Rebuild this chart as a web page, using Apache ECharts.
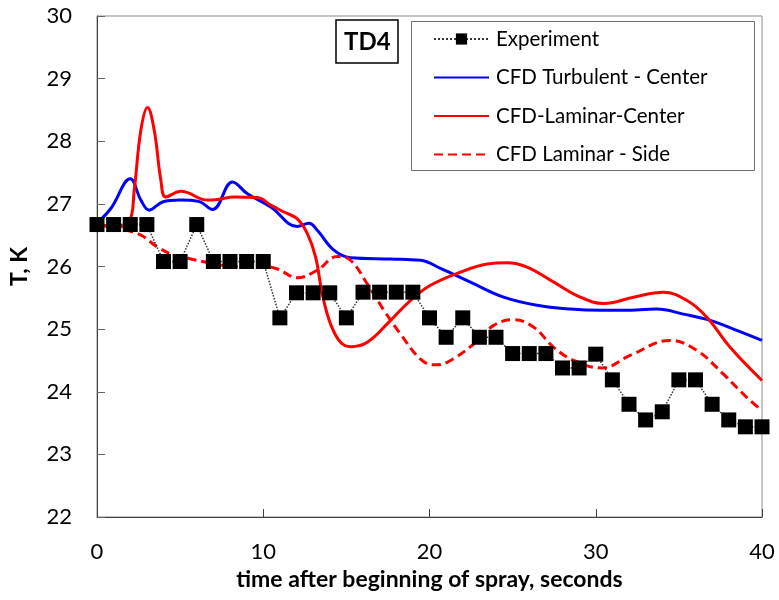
<!DOCTYPE html>
<html>
<head>
<meta charset="utf-8">
<script src="https://cdn.jsdelivr.net/npm/echarts@6/dist/echarts.min.js"></script>
<style>
  html, body { margin: 0; padding: 0; background: #fff; }
  #chart { width: 779px; height: 600px; }
</style>
</head>
<body>
<div id="chart"></div>
<script>
// ---------- data ----------
const xTicks = [0, 10, 20, 30, 40];
const yTicks = [22, 23, 24, 25, 26, 27, 28, 29, 30];

const expTime = [0,1,2,3,4,5,6,7,8,9,10,11,12,13,14,15,16,17,18,19,20,21,22,23,24,25,26,27,28,29,30,31,32,33,34,35,36,37,38,39,40];
const expTemp = [26.67,26.67,26.67,26.67,26.08,26.08,26.67,26.08,26.08,26.08,26.08,25.18,25.58,25.58,25.58,25.18,25.59,25.59,25.59,25.59,25.18,24.87,25.18,24.87,24.87,24.61,24.61,24.61,24.38,24.38,24.6,24.19,23.8,23.55,23.68,24.19,24.19,23.8,23.55,23.44,23.44];

const turbulentCenter = [
  [0,26.69],[0.84,26.93],[2.0,27.40],[2.64,27.06],[3.14,26.90],[3.94,27.03],[5.0,27.06],[6.1,27.04],
  [6.95,26.91],[8.15,27.35],[9.05,27.16],[10.45,26.95],[12.05,26.64],[12.75,26.69],[13.25,26.58],
  [14.25,26.26],[15.25,26.14],[17.66,26.12],[19.46,26.10],[20.66,25.97],[22.46,25.75],[24.46,25.51],
  [26.47,25.38],[28.47,25.32],[30.27,25.30],[31.67,25.30],[33.67,25.32],[35.27,25.24],[36.88,25.14],
  [38.48,24.98],[40,24.82]
];

const laminarCenter = [
  [0,26.68],[1.1,26.63],[1.94,26.71],[2.24,27.22],[2.64,28.18],[3.04,28.54],[3.44,28.18],[3.84,27.38],
  [4.14,27.11],[5.05,27.20],[6.65,27.06],[7.25,27.07],[8.25,27.11],[9.65,27.10],[10.45,26.98],
  [11.25,26.87],[12.05,26.76],[12.66,26.52],[13.15,26.15],[13.55,25.56],[14.05,25.08],[14.65,24.79],
  [15.25,24.72],[16.26,24.79],[17.66,25.14],[18.86,25.46],[20.06,25.70],[21.86,25.91],[23.47,26.04],
  [24.67,26.06],[25.87,25.99],[27.47,25.75],[29.07,25.51],[30.47,25.41],[32.27,25.51],[34.07,25.59],
  [35.47,25.46],[36.68,25.19],[38.08,24.71],[40,24.18]
];

const laminarSide = [
  [0,26.67],[1.44,26.60],[2.64,26.50],[3.64,26.31],[4.64,26.18],[5.65,26.12],[7.25,26.03],[8.45,26.00],
  [9.65,26.02],[10.85,25.96],[12.05,25.82],[13.25,25.94],[14.45,26.16],[15.25,26.10],[16.26,25.72],
  [17.26,25.30],[18.26,24.92],[19.46,24.52],[20.26,24.43],[21.06,24.47],[22.66,24.76],[23.86,25.06],
  [25.06,25.15],[26.27,25.03],[27.47,24.71],[28.67,24.50],[30.37,24.38],[32.07,24.58],[34.47,24.82],
  [36.08,24.66],[37.68,24.28],[39.08,23.91],[40,23.70]
];

const seriesNames = ['Experiment', 'CFD Turbulent - Center', 'CFD-Laminar-Center', 'CFD Laminar - Side'];

// ---------- chart ----------
const FONT = 'Lato';
const chart = echarts.init(document.getElementById('chart'), null, { renderer: 'canvas' });

const expData = expTime.map((t, i) => [t, expTemp[i]]);
const hiddenSymbol = { opacity: 0 };

chart.setOption({
  animation: false,
  backgroundColor: '#ffffff',
  textStyle: { fontFamily: FONT },
  grid: {
    left: 97, top: 16, width: 665, height: 501,
    show: true, borderColor: '#8c8c8c', borderWidth: 1, backgroundColor: 'transparent'
  },
  title: {
    text: 'TD4',
    left: 336, top: 20,
    padding: [9, 8, 8, 8],
    borderColor: '#000', borderWidth: 1.5,
    textStyle: { fontFamily: FONT, fontSize: 24, fontWeight: 'bold', color: '#000', lineHeight: 26 }
  },
  legend: {
    data: [
      { name: seriesNames[0] },
      { name: seriesNames[1], itemStyle: hiddenSymbol },
      { name: seriesNames[2], itemStyle: hiddenSymbol },
      { name: seriesNames[3], itemStyle: hiddenSymbol }
    ],
    orient: 'vertical',
    left: 433, top: 27,
    itemWidth: 55, itemHeight: 14, itemGap: 14.5,
    padding: 0,
    textStyle: { fontFamily: FONT, fontSize: 20.5, color: '#000', lineHeight: 24, padding: [0, 0, 0, 2] }
  },
  graphic: [{
    type: 'rect',
    shape: { x: 411.5, y: 21.5, width: 343, height: 149 },
    style: { fill: 'none', stroke: '#6e6e6e', lineWidth: 1 },
    z: 5
  }],
  xAxis: {
    type: 'value', min: 0, max: 40, interval: 10,
    name: 'time after beginning of spray, seconds',
    nameLocation: 'middle', nameGap: 50,
    nameTextStyle: { fontFamily: FONT, fontSize: 23, fontWeight: 'bold', color: '#000' },
    axisLine: { show: true, lineStyle: { color: '#404040', width: 1 } },
    axisTick: { show: true, inside: true, length: 8, lineStyle: { color: '#404040' } },
    axisLabel: { fontFamily: FONT, fontSize: 22, color: '#000', margin: 24,
      formatter: v => xTicks.includes(v) ? String(v) : '' },
    splitLine: { show: false }
  },
  yAxis: {
    type: 'value', min: 22, max: 30, interval: 1,
    name: 'T, K',
    nameLocation: 'middle', nameGap: 66, nameRotate: 90,
    nameTextStyle: { fontFamily: FONT, fontSize: 23, fontWeight: 'bold', color: '#000' },
    axisLine: { show: true, lineStyle: { color: '#404040', width: 1 } },
    axisTick: { show: true, inside: true, length: 8, lineStyle: { color: '#666' } },
    axisLabel: { fontFamily: FONT, fontSize: 22, color: '#000', margin: 25,
      formatter: v => yTicks.includes(v) ? String(v) : '' },
    splitLine: { show: false }
  },
  series: [
    {
      name: seriesNames[0], type: 'line', data: expData,
      symbol: 'rect', symbolSize: 15, showSymbol: true,
      itemStyle: { color: '#000' },
      lineStyle: { color: '#333', width: 1.5, type: 'dotted' },
      z: 4
    },
    {
      name: seriesNames[1], type: 'line', data: turbulentCenter,
      smooth: 0.4, showSymbol: false, symbol: 'none',
      itemStyle: { color: '#0000ff' },
      lineStyle: { color: '#0000ff', width: 3 },
      z: 3
    },
    {
      name: seriesNames[2], type: 'line', data: laminarCenter,
      smooth: 0.4, showSymbol: false, symbol: 'none',
      itemStyle: { color: '#ff0000' },
      lineStyle: { color: '#ff0000', width: 3 },
      z: 3
    },
    {
      name: seriesNames[3], type: 'line', data: laminarSide,
      smooth: 0.4, showSymbol: false, symbol: 'none',
      itemStyle: { color: '#ff0000' },
      lineStyle: { color: '#ff0000', width: 3, type: [9, 5] },
      z: 3
    }
  ]
});
</script>
</body>
</html>
